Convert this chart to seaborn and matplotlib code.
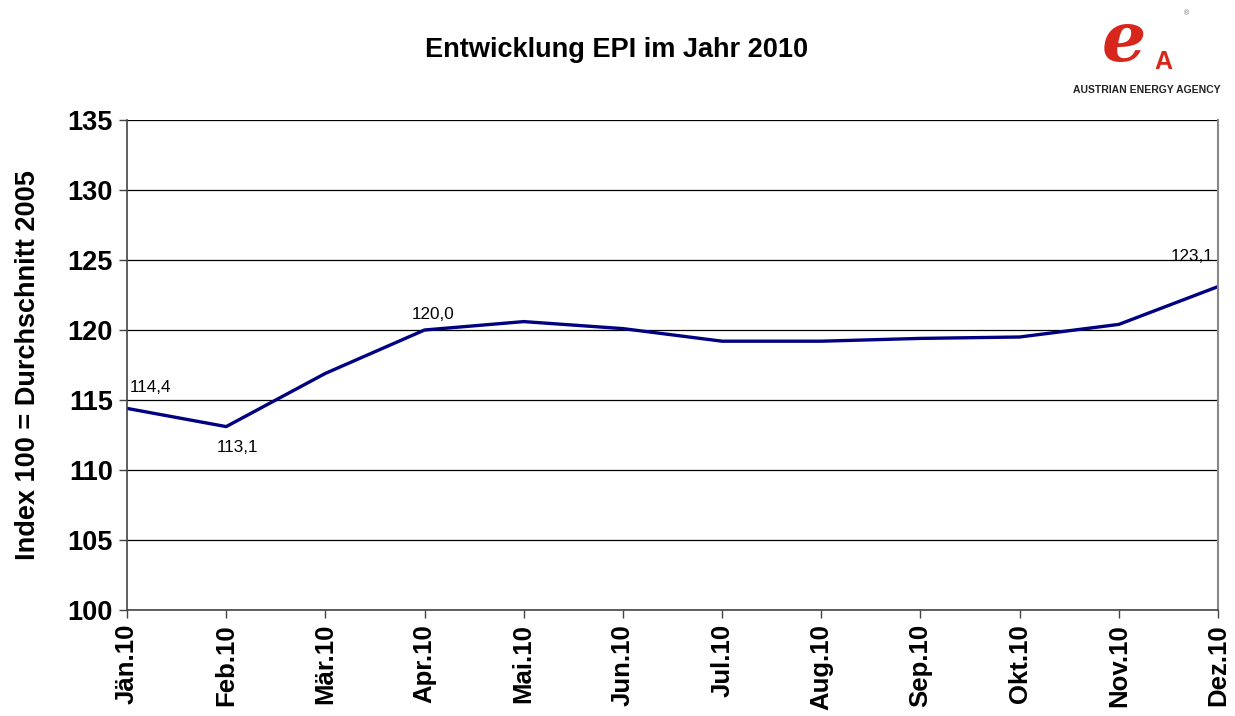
import matplotlib
matplotlib.use("Agg")
import matplotlib.pyplot as plt
import seaborn as sns
import pandas as pd

months = ["Jän.10", "Feb.10", "Mär.10", "Apr.10", "Mai.10", "Jun.10",
          "Jul.10", "Aug.10", "Sep.10", "Okt.10", "Nov.10", "Dez.10"]
epi = [114.4, 113.1, 116.9, 120.0, 120.6, 120.1, 119.2, 119.2, 119.4, 119.5, 120.4, 123.1]
labelled = {0: "114,4", 1: "113,1", 3: "120,0", 11: "123,1"}
yticks = [100, 105, 110, 115, 120, 125, 130, 135]

sns.set_style("white")
plt.rcParams["font.family"] = ["Liberation Sans", "DejaVu Sans"]
plt.rcParams["text.color"] = "black"
plt.rcParams["xtick.color"] = "black"
plt.rcParams["ytick.color"] = "black"
plt.rcParams["axes.labelcolor"] = "black"

df = pd.DataFrame({"pos": range(len(months)), "epi": epi})

fig = plt.figure(figsize=(12.35, 7.16), dpi=100)
ax = fig.add_axes([127/1235, 1-610/716, (1218-127)/1235, (610-120)/716])
sns.lineplot(data=df, x="pos", y="epi", ax=ax, color="#000080", linewidth=2.4)

ax.set_xlim(0, len(months)-1)
ax.set_ylim(100, 135)
ax.set_yticks(yticks)
ax.set_yticklabels([str(v) for v in yticks], fontsize=19.5, fontweight="bold")
ax.set_xticks(range(len(months)))
ax.set_xticklabels(months, rotation=90, fontsize=18.5, fontweight="bold")
ax.set_xlabel("")
ax.set_ylabel("Index 100 = Durchschnitt 2005", fontsize=19.5, fontweight="bold", labelpad=19)
ax.grid(axis="y", color="black", linewidth=0.9)
ax.grid(axis="x", visible=False)
ax.set_axisbelow(True)
ax.tick_params(axis="both", which="both", direction="out", length=6, width=1,
               color="#444444", left=True, bottom=True, pad=4)
for side in ["left", "bottom"]:
    ax.spines[side].set_color("#444444")
    ax.spines[side].set_linewidth(1.2)
ax.spines["top"].set_visible(False)
ax.spines["right"].set_color("#888888")
ax.spines["right"].set_linewidth(1.5)

offsets = {0: (2, 10, "left", "bottom"), 1: (8, -10, "center", "top"),
           3: (6, 6, "center", "bottom"), 11: (-3, 16, "right", "bottom")}
for i, txt in labelled.items():
    dx, dy, ha, va = offsets[i]
    ax.annotate(txt, (i, epi[i]), xytext=(dx, dy), textcoords="offset points",
                ha=ha, va=va, fontsize=12.3, color="black")

fig.text(617/1235, 1-50/716, "Entwicklung EPI im Jahr 2010", ha="center", va="center",
         fontsize=19.5, fontweight="bold")

# logo
fig.text(1124/1235, 1-42/716, "e", ha="center", va="center", fontsize=50,
         fontweight="bold", fontstyle="italic", color="#d9261c", family="DejaVu Serif")
fig.text(1163/1235, 1-62/716, "A", ha="center", va="center", fontsize=18,
         fontweight="bold", color="#d9261c")
fig.text(1187/1235, 1-14/716, "®", ha="center", va="center", fontsize=5, color="#777777")
fig.text(1147/1235, 1-90/716, "AUSTRIAN ENERGY AGENCY", ha="center", va="center",
         fontsize=7.5, color="#222222", fontweight="bold")

fig.savefig("out.png", dpi=100, facecolor="white")
